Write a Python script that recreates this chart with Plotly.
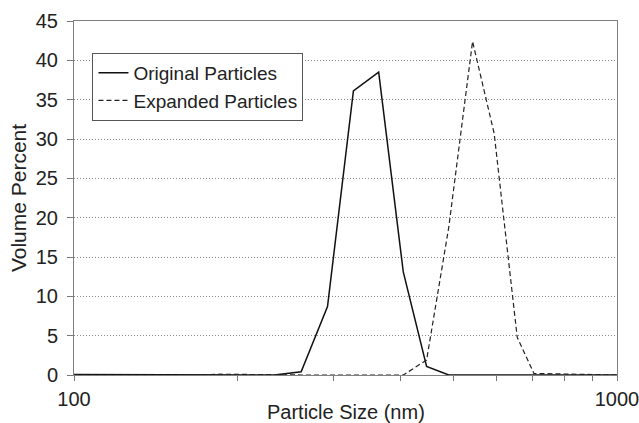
import plotly.graph_objects as go

# Particle size bins (nm)
sizes = [100, 105, 118, 132, 148, 166, 186, 209, 234, 262, 293, 327, 364,
         404, 446, 490, 542, 594, 655, 703, 766, 835, 910, 1000]

# Volume percent, original particles
original = [0.05, 0.05, 0, 0, 0, 0, 0, 0, 0, 0.4, 8.7, 36.1, 38.5,
            13.1, 1.1, 0, 0, 0, 0, 0, 0, 0, 0, 0]

# Volume percent, expanded particles
expanded = [0.05, 0, 0, 0, 0, 0, 0.1, 0.05, 0, 0, 0, 0, 0,
            0, 1.9, 18.8, 42.4, 30.7, 4.8, 0.2, 0.15, 0.1, 0, 0]

x_tickvals = [100, 200, 300, 400, 500, 600, 700, 800, 900, 1000]
x_ticktext = ["100", "", "", "", "", "", "", "", "", "1000"]
y_tickvals = [0, 5, 10, 15, 20, 25, 30, 35, 40, 45]

FONT = "Liberation Sans, Arial, sans-serif"
TXT = "#222222"

fig = go.Figure()
fig.add_trace(go.Scatter(
    x=sizes, y=original, mode="lines", name="Original Particles",
    line=dict(color="#111111", width=1.5)))
fig.add_trace(go.Scatter(
    x=sizes, y=expanded, mode="lines", name="Expanded Particles",
    line=dict(color="#222222", width=1.2, dash="5px,3px")))

fig.update_layout(
    width=639, height=423,
    margin=dict(l=74, r=22, t=21, b=48),
    paper_bgcolor="white", plot_bgcolor="white",
    font=dict(family=FONT, color=TXT, size=18),
    showlegend=True,
    legend=dict(
        x=0.034, y=0.91, xanchor="left", yanchor="top",
        bgcolor="white", bordercolor="#555555", borderwidth=1,
        font=dict(size=19, family=FONT, color=TXT),
        itemwidth=30, tracegroupgap=0,
    ),
    xaxis=dict(
        type="log", range=[2, 3], automargin=False,
        tickvals=x_tickvals, ticktext=x_ticktext,
        ticks="outside", ticklen=5, tickcolor="#777777", tickwidth=1,
        showline=True, linecolor="#808080", linewidth=1, mirror=True,
        showgrid=False, zeroline=False,
        tickfont=dict(size=20, family=FONT, color=TXT),
        ticklabelstandoff=1, ticklabeloverflow="allow",
    ),
    yaxis=dict(
        range=[0, 45], tickvals=y_tickvals, automargin=False,
        ticks="outside", ticklen=6, tickcolor="#777777", tickwidth=1,
        showline=True, linecolor="#808080", linewidth=1, mirror=True,
        showgrid=True, gridcolor="#888888", gridwidth=1, griddash="1px,2px",
        zeroline=False,
        tickfont=dict(size=20, family=FONT, color=TXT),
        ticklabelstandoff=5,
        title=dict(text="Volume Percent", standoff=3,
                   font=dict(size=21, family=FONT, color=TXT)),
    ),
    annotations=[dict(
        text="Particle Size (nm)", xref="paper", yref="paper",
        x=0.5, y=0, xanchor="center", yanchor="middle", yshift=-37,
        showarrow=False, font=dict(size=20, family=FONT, color=TXT),
    )],
)

fig.write_html("out.html")
